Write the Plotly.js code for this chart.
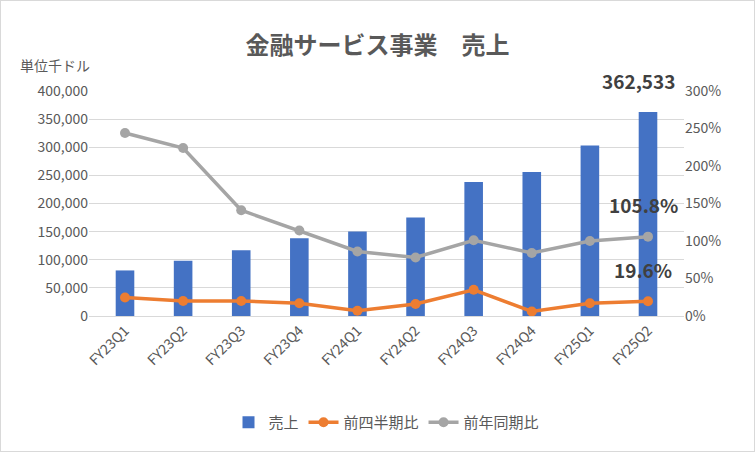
<!DOCTYPE html>
<html><head><meta charset="utf-8">
<script src="https://cdn.plot.ly/plotly-3.0.1.min.js"></script>
<style>body{margin:0}#c{width:755px;height:452px;box-sizing:border-box;border:1px solid #d9d9d9}</style>
</head><body><div id="c"></div>
<script>
const quarters = ["FY23Q1","FY23Q2","FY23Q3","FY23Q4","FY24Q1","FY24Q2","FY24Q3","FY24Q4","FY25Q1","FY25Q2"];
const sales = [81000, 98000, 117000, 138000, 150000, 175000, 238000, 256000, 303000, 362533];
const qoq = [24.6, 20, 20, 17, 7, 16, 35, 6, 17, 19.6];
const yoy = [244, 224, 141, 114, 86, 78, 101, 84, 100, 105.8];
const font = "Noto Sans CJK JP, sans-serif";
const C = { blue: "#4472c4", orange: "#ed7d31", gray: "#a5a5a5", ink: "#595959" };

Plotly.newPlot("c", [
  { x: quarters, y: sales, type: "bar", name: "売上", marker: { color: C.blue }, width: 0.32 },
  { x: quarters, y: qoq, type: "scatter", mode: "lines+markers", name: "前四半期比", yaxis: "y2",
    line: { color: C.orange, width: 3.5 }, marker: { size: 10, color: C.orange } },
  { x: quarters, y: yoy, type: "scatter", mode: "lines+markers", name: "前年同期比", yaxis: "y2",
    line: { color: C.gray, width: 3.5 }, marker: { size: 10, color: C.gray } }
], {
  width: 753, height: 450,
  margin: { l: 88, r: 70, t: 90, b: 130 },
  paper_bgcolor: "#fff", plot_bgcolor: "#fff",
  font: { family: font, color: C.ink, size: 14 },
  title: { text: "<b>金融サービス事業　売上</b>", x: 0.5, y: 0.92, font: { size: 24, color: C.ink } },
  xaxis: { tickangle: -45, showline: true, linecolor: "#d9d9d9", tickfont: { size: 14 } },
  yaxis: { range: [0, 400000], dtick: 50000, tickformat: ",d", gridcolor: "#d9d9d9", zeroline: false },
  yaxis2: { range: [0, 300], dtick: 50, ticksuffix: "%", overlaying: "y", side: "right", showgrid: false, zeroline: false },
  bargap: 0.5,
  legend: { orientation: "h", x: 0.5, xanchor: "center", y: -0.4, font: { size: 15 } },
  annotations: [
    { xref: "paper", yref: "paper", x: -0.12, y: 1.17, xanchor: "left", text: "単位千ドル", showarrow: false, font: { size: 14 } },
    { x: "FY25Q2", y: 362533, text: "<b>362,533</b>", showarrow: false, yshift: 32, xshift: -10, font: { size: 19, color: "#404040" } },
    { x: "FY25Q2", y: 105.8, yref: "y2", text: "<b>105.8%</b>", showarrow: false, yshift: 32, xshift: -5, font: { size: 19, color: "#404040" } },
    { x: "FY25Q2", y: 19.6, yref: "y2", text: "<b>19.6%</b>", showarrow: false, yshift: 32, xshift: -5, font: { size: 19, color: "#404040" } }
  ]
}, { displayModeBar: false });
</script></body></html>
